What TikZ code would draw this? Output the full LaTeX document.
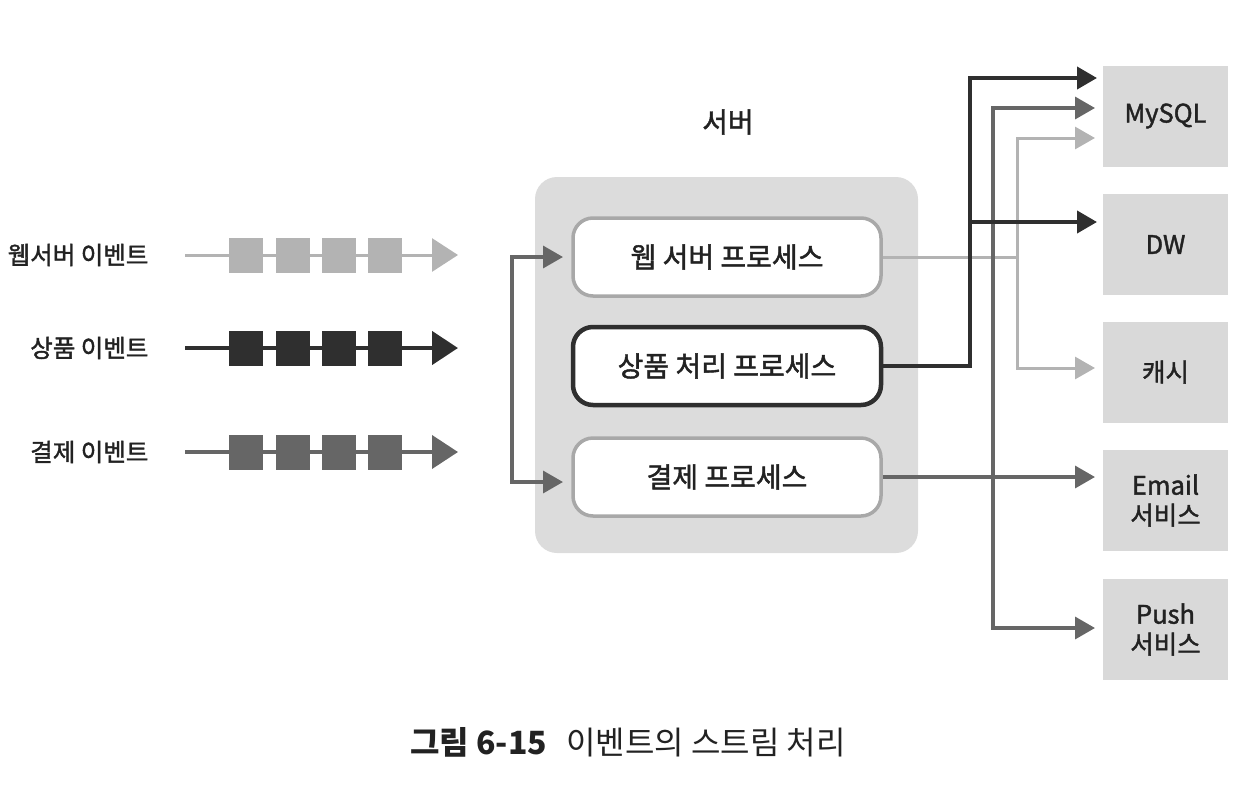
\documentclass[tikz,border=0pt]{standalone}
\usepackage{fontspec}
\setmainfont{Noto Sans CJK KR}
\newfontfamily\medfont{Noto Sans CJK KR}[FakeBold=1.6]
\usetikzlibrary{arrows.meta,calc,positioning}
\definecolor{evlight}{HTML}{B3B3B3}
\definecolor{evdark}{HTML}{2F2F2F}
\definecolor{evmid}{HTML}{666666}
\definecolor{procline}{HTML}{A8A8A8}
\definecolor{serverfill}{HTML}{DCDCDC}
\definecolor{targetfill}{HTML}{D9D9D9}
\definecolor{inktext}{HTML}{222222}
\tikzset{
  every picture/.style={text=inktext},
  evlabel/.style={anchor=east, font=\medfont\fontsize{24.5}{28}\selectfont},
  evbox/.style={minimum width=34pt, minimum height=35pt, inner sep=0pt},
  serverbox/.style={fill=serverfill, rounded corners=22pt,
    minimum width=383pt, minimum height=376pt},
  proc/.style={draw=#1, fill=white, rounded corners=20pt, line width=3.5pt,
    minimum width=308pt, minimum height=78pt,
    font=\medfont\fontsize{28}{32}\selectfont},
  target/.style={fill=targetfill, minimum width=125pt, minimum height=101pt,
    align=center, font=\medfont\fontsize{25.5}{30}\selectfont},
  link/.style={draw=#1, line width=3.5pt, ->},
}

\begin{document}
\begin{tikzpicture}[x=1pt,y=-1pt,
  >={Triangle[length=20pt,width=22pt]}]
\useasboundingbox (0,0) rectangle (1254,788);
% Event streams on the left
\foreach \row/\y/\col/\lw/\txt in {ws/255/evlight/3/웹서버 이벤트,
    goods/348/evdark/4.5/상품 이벤트, pay/452/evmid/4/결제 이벤트}{
  \node[evlabel] (\row-label) at (152,\y) {\txt};
  \coordinate (\row-src) at (185,\y);
  \coordinate (\row-dst) at (458,\y);
  \draw[draw=\col, line width=\lw pt, -{Triangle[length=26pt,width=33pt]}]
    (\row-src) -- (\row-dst);
  \foreach \i/\x in {1/246,2/293,3/339,4/385}
    \node[evbox, fill=\col] (\row-e\i) at (\x,\y) {};
}
% Server with its processes
\node[font=\medfont\fontsize{28}{32}\selectfont] (server-title) at (728,122) {서버};
\node[serverbox] (server) at (726.5,365) {};
\node[proc=procline] (web) at (727,257) {웹 서버 프로세스};
\node[proc=evdark, line width=4.5pt] (goods) at (727,366) {상품 처리 프로세스};
\node[proc=procline] (pay) at (727,477) {결제 프로세스};
\coordinate (in-top) at (563,257);
\coordinate (in-bot) at (563,482);
\draw[link=evmid, <->] (in-top) -- (512,257) -- (512,482) -- (in-bot);
% Targets on the right
\node[target] (mysql) at (1165.5,116) {MySQL};
\node[target] (dw)    at (1165.5,244.5) {DW};
\node[target] (cache) at (1165.5,372) {캐시};
\node[target] (email) at (1165.5,500.5) {Email\\서비스};
\node[target] (push)  at (1165.5,629.5) {Push\\서비스};
\coordinate (mysql-a) at (1097,78);
\coordinate (mysql-b) at (1095,108);
\coordinate (mysql-c) at (1095,138);
\coordinate (dw-in) at (1097,222);
\coordinate (cache-in) at (1095,368);
\coordinate (email-in) at (1095,477);
\coordinate (push-in) at (1095,628);
% Connectors from processes to targets
\draw[link=evlight, line width=3pt] (web.east) -- (1017,257) |- (mysql-c);
\draw[link=evlight, line width=3pt] (1017,257) |- (cache-in);
\draw[link=evmid] (pay.east) -- (email-in);
\draw[link=evmid] (993,477) |- (mysql-b);
\draw[link=evmid] (993,477) |- (push-in);
\draw[link=evdark, line width=4pt] (goods.east) -| (970,78) -- (mysql-a);
\draw[link=evdark, line width=4pt] (970,222) -- (dw-in);
% Caption
\node[font=\fontsize{32}{36}\selectfont] (caption) at (628,742)
  {\textbf{그림 6-15}\hspace{0.6em}이벤트의 스트림 처리};
\end{tikzpicture}
\end{document}
